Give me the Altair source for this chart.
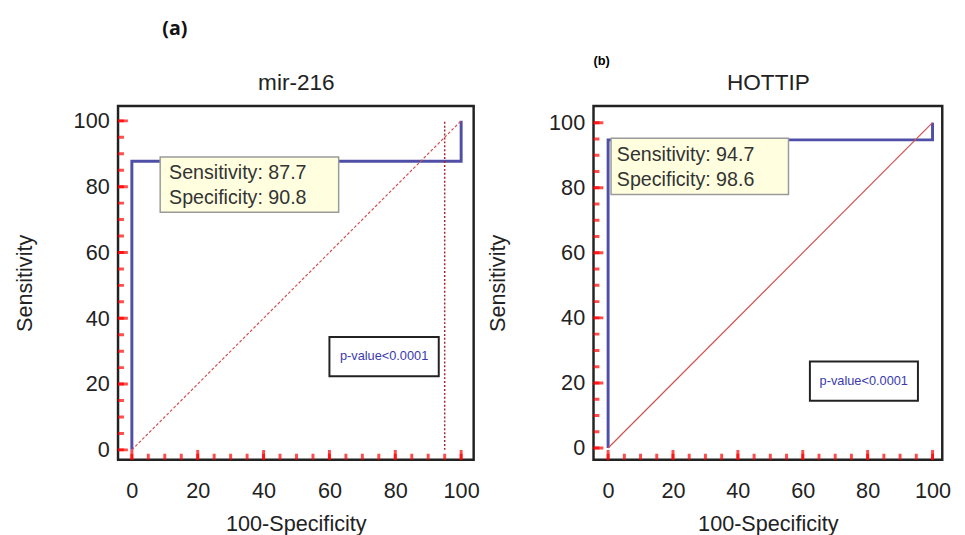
import altair as alt
import pandas as pd

FONT = "Liberation Sans"

# ---- data ----
panel_tags = ["(a)", "(b)"]
panel_names = ["mir-216", "HOTTIP"]

a_roc_x = [0, 0, 100, 100]
a_roc_y = [0, 87.7, 87.7, 100]
b_roc_x = [0, 0, 100, 100]
b_roc_y = [0, 94.7, 94.7, 100]

diag_x = [0, 100]
diag_y = [0, 100]

a_cut_x = [95.0]
a_cut_y = [0]
a_cut_y2 = [100]

a_sens, a_spec = 87.7, 90.8
b_sens, b_spec = 94.7, 98.6

a_box = [8.6, 62.8, 72.2, 89.0]
b_box = [0.9, 55.6, 77.9, 95.2]
a_box_text_x = 11.3
a_box_text_y = [84.2, 76.4]
b_box_text_x = 2.7
b_box_text_y = [90.0, 82.2]

a_pbox = [60.0, 93.2, 22.4, 34.3]
b_pbox = [62.2, 95.5, 14.5, 26.6]
a_ptext = [76.6, 28.4]
b_ptext = [78.8, 20.6]
p_label = "p-value<0.0001"

a_xdom = [-4.2, 103.8]
a_ydom = [-3.0, 104.5]
b_xdom = [-4.5, 103.0]
b_ydom = [-3.6, 105.1]

major_ticks = [0, 20, 40, 60, 80, 100]
minor_ticks = [5 * i for i in range(21)]


def label_axis(title, label_pad, title_pad):
    return alt.Axis(
        values=major_ticks, ticks=False, tickSize=0, domain=False, grid=False,
        labelFont=FONT, labelFontSize=22, labelColor="#222",
        labelPadding=label_pad,
        title=title, titleFont=FONT, titleFontSize=22,
        titleFontWeight="normal", titleColor="#222", titlePadding=title_pad,
    )


def panel(tag, name, roc_x, roc_y, sens, spec, box, bx, by, pbox, ptext,
          xdom, ydom, width, y_title_pad, tag_dx, debug, cut=None):
    xs = alt.Scale(domain=xdom, nice=False, zero=False)
    ys = alt.Scale(domain=ydom, nice=False, zero=False)

    roc_df = pd.DataFrame({"x": roc_x, "y": roc_y, "o": list(range(len(roc_x)))})
    diag_df = pd.DataFrame({"x": diag_x, "y": diag_y})
    box_df = pd.DataFrame({"x": [box[0]], "x2": [box[1]], "y": [box[2]], "y2": [box[3]]})
    txt_df = pd.DataFrame({
        "x": [bx, bx], "y": by,
        "t": [f"Sensitivity: {sens}", f"Specificity: {spec}"],
    })
    pbox_df = pd.DataFrame({"x": [pbox[0]], "x2": [pbox[1]], "y": [pbox[2]], "y2": [pbox[3]]})
    ptxt_df = pd.DataFrame({"x": [ptext[0]], "y": [ptext[1]], "t": [p_label]})

    xmaj_df = pd.DataFrame({"v": major_ticks, "b": [ydom[0]] * len(major_ticks)})
    xmin_df = pd.DataFrame({"v": minor_ticks, "b": [ydom[0]] * len(minor_ticks)})
    ymaj_df = pd.DataFrame({"v": major_ticks, "b": [xdom[0]] * len(major_ticks)})
    ymin_df = pd.DataFrame({"v": minor_ticks, "b": [xdom[0]] * len(minor_ticks)})

    def xtick(df, size):
        return alt.Chart(df).mark_tick(
            orient="vertical", size=size, thickness=3, color="red", clip=True
        ).encode(
            x=alt.X("v:Q", scale=xs, axis=None),
            y=alt.Y("b:Q", scale=ys, axis=None),
        )

    def ytick(df, size):
        return alt.Chart(df).mark_tick(
            orient="horizontal", size=size, thickness=3, color="red", clip=True
        ).encode(
            y=alt.Y("v:Q", scale=ys, axis=None),
            x=alt.X("b:Q", scale=xs, axis=None),
        )

    roc = alt.Chart(roc_df).mark_line(color="#4f4fa8", strokeWidth=3).encode(
        x=alt.X("x:Q", scale=xs, axis=label_axis("100-Specificity", 21, 13)),
        y=alt.Y("y:Q", scale=ys, axis=label_axis("Sensitivity", 9, y_title_pad)),
        order="o:Q",
    )
    if debug:
        diag_mark = alt.Chart(diag_df).mark_line(color="#d05050", strokeWidth=1.2)
    else:
        diag_mark = alt.Chart(diag_df).mark_line(color="#d05050", strokeWidth=1.2, strokeDash=[3, 2])
    diag = diag_mark.encode(
        x=alt.X("x:Q", scale=xs, axis=None),
        y=alt.Y("y:Q", scale=ys, axis=None),
    )
    box_layer = alt.Chart(box_df).mark_rect(
        fill="#ffffe0", stroke="#9a9a9a", strokeWidth=1.5
    ).encode(
        x=alt.X("x:Q", scale=xs, axis=alt.Axis(
            orient="top", ticks=False, labels=False, domain=False, grid=False,
            title=name, titleFont=FONT, titleFontSize=23,
            titleFontWeight="normal", titleColor="#222", titlePadding=12)),
        x2="x2:Q",
        y=alt.Y("y:Q", scale=ys, axis=None),
        y2="y2:Q",
    )
    txt = alt.Chart(txt_df).mark_text(
        align="left", baseline="middle", font=FONT, fontSize=20, color="#333"
    ).encode(
        x=alt.X("x:Q", scale=xs, axis=None),
        y=alt.Y("y:Q", scale=ys, axis=None),
        text="t:N",
    )
    pbox_layer = alt.Chart(pbox_df).mark_rect(
        fill="white", stroke="#222", strokeWidth=2
    ).encode(
        x=alt.X("x:Q", scale=xs, axis=None), x2="x2:Q",
        y=alt.Y("y:Q", scale=ys, axis=None), y2="y2:Q",
    )
    ptxt = alt.Chart(ptxt_df).mark_text(
        align="center", baseline="middle", font=FONT, fontSize=13, color="#3a3ab0"
    ).encode(
        x=alt.X("x:Q", scale=xs, axis=None),
        y=alt.Y("y:Q", scale=ys, axis=None),
        text="t:N",
    )
    layers = [roc, diag, box_layer]
    if cut is not None:
        cut_df = pd.DataFrame({"x": cut[0], "y": cut[1], "y2": cut[2]})
        cut_layer = alt.Chart(cut_df).mark_rule(
            color="#a02828", strokeWidth=1.5, strokeDash=[2, 2]
        ).encode(
            x=alt.X("x:Q", scale=xs, axis=None),
            y=alt.Y("y:Q", scale=ys, axis=None), y2="y2:Q",
        )
        layers.append(cut_layer)
    layers += [txt, pbox_layer, ptxt,
               xtick(xmin_df, 12), xtick(xmaj_df, 20), ytick(ymin_df, 12), ytick(ymaj_df, 20)]
    if debug:
        title = alt.TitleParams(text=tag, anchor="start", frame="group")
    else:
        title = alt.TitleParams(
            text=tag, anchor="start", frame="group", dx=tag_dx,
            font="Open Sans", fontSize=20, fontWeight="bold", color="#111",
            offset=33,
        )
    return alt.layer(*layers).resolve_axis(x="independent", y="independent").properties(
        width=width, height=360, title=title,
    )


pa = panel(panel_tags[0], panel_names[0], a_roc_x, a_roc_y, a_sens, a_spec,
           a_box, a_box_text_x, a_box_text_y, a_pbox, a_ptext,
           a_xdom, a_ydom, 362, 37, 45, False, cut=(a_cut_x, a_cut_y, a_cut_y2))
pb = panel(panel_tags[1], panel_names[1], b_roc_x, b_roc_y, b_sens, b_spec,
           b_box, b_box_text_x, b_box_text_y, b_pbox, b_ptext,
           b_xdom, b_ydom, 355, 40, 98, True)

chart = alt.hconcat(pa, pb, spacing=5).properties(
    background="white",
).configure_view(stroke="#222", strokeWidth=2.5)

chart.save("out.html", embed_options={"renderer": "svg", "actions": False})
